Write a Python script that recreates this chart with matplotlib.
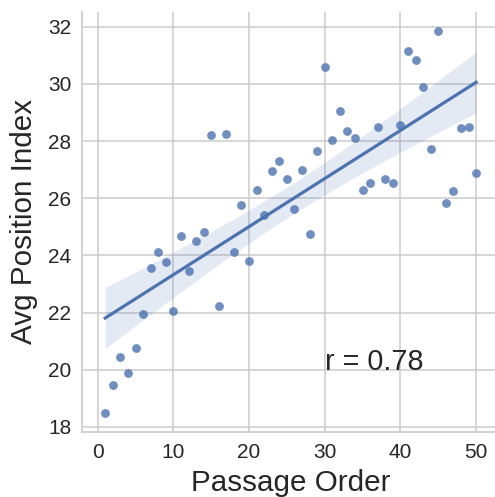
import matplotlib
matplotlib.use("Agg")
import matplotlib.pyplot as plt
import numpy as np

# passage order vs average position index
passage_order = np.arange(1, 51)
avg_position = [
    18.50, 19.45, 20.43, 19.87, 20.75, 21.94, 23.56, 24.11, 23.78, 22.07,
    24.67, 23.46, 24.51, 24.83, 28.21, 22.22, 28.24, 24.12, 25.78, 23.82,
    26.29, 25.42, 26.97, 27.30, 26.67, 25.64, 27.00, 24.75, 27.65, 30.60,
    28.05, 29.05, 28.35, 28.12, 26.30, 26.55, 28.48, 26.69, 26.55, 28.55,
    31.17, 30.84, 29.89, 27.71, 31.86, 25.84, 26.24, 28.46, 28.50, 26.87,
]
r_label = "r = 0.78"

BLUE = "#4c72b0"
GRID = "#cccccc"
FONT = ["Liberation Sans", "DejaVu Sans"]


def fit_with_ci(x, y, level_t=2.0106):
    # ordinary least squares line plus 95% band for the mean
    x = np.asarray(x, float)
    y = np.asarray(y, float)
    slope, intercept = np.polyfit(x, y, 1)
    resid = y - (slope * x + intercept)
    s = np.sqrt(np.sum(resid ** 2) / (len(x) - 2))
    grid = np.linspace(x.min(), x.max(), 100)
    fit = slope * grid + intercept
    se = s * np.sqrt(1 / len(x) + (grid - x.mean()) ** 2 / np.sum((x - x.mean()) ** 2))
    return grid, fit, fit - level_t * se, fit + level_t * se


plt.rcParams["font.family"] = FONT

fig = plt.figure(figsize=(4.95, 4.97), dpi=100)
ax = fig.add_axes([82.3 / 495, (497 - 431.7) / 497, (499.1 - 82.3) / 495, 420 / 497])

ax.grid(True, color=GRID, linewidth=1.1)
ax.set_axisbelow(True)
for side in ["top", "right"]:
    ax.spines[side].set_visible(False)
for side in ["left", "bottom"]:
    ax.spines[side].set_color(GRID)
    ax.spines[side].set_linewidth(1.25)

ax.scatter(passage_order, avg_position, s=40, color=BLUE, alpha=0.8, linewidths=0, zorder=3)
xs, fit, lo, hi = fit_with_ci(passage_order, avg_position)
ax.fill_between(xs, lo, hi, color=BLUE, alpha=0.15, linewidth=0, zorder=2)
ax.plot(xs, fit, color=BLUE, linewidth=2.3, zorder=4)

ax.text(30, 20, r_label, fontsize=20.7, color="#262626")

ax.set_xlim(-2.03, 53.03)
ax.set_ylim(17.83, 32.53)
ax.set_xticks([0, 10, 20, 30, 40, 50])
ax.set_yticks([18, 20, 22, 24, 26, 28, 30, 32])
ax.tick_params(length=0, labelsize=15, labelcolor="#262626", pad=8)
ax.set_xlabel("Passage Order", fontsize=21.3, color="#262626", labelpad=5)
ax.set_ylabel("Avg Position Index", fontsize=21.3, color="#262626", labelpad=7)

fig.savefig("out.png", dpi=100)
